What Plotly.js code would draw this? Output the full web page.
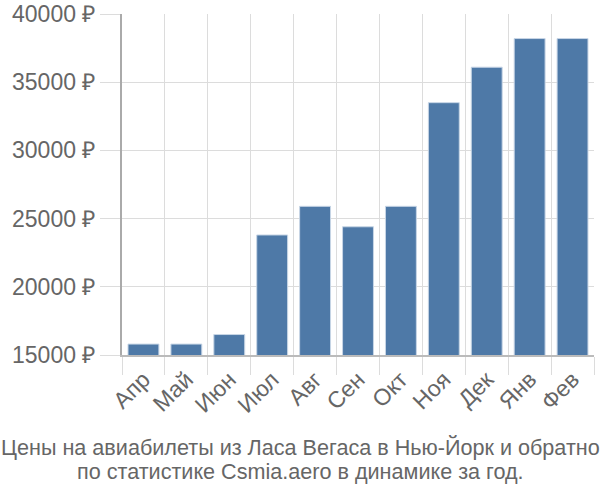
<!DOCTYPE html>
<html>
<head>
<meta charset="utf-8">
<script src="https://cdn.plot.ly/plotly-3.0.1.min.js"></script>
<style>
  html, body { margin: 0; padding: 0; background: #fff; }
  #chart { width: 600px; height: 500px; }
</style>
</head>
<body>
<div id="chart"></div>
<script>
var months = ['Апр', 'Май', 'Июн', 'Июл', 'Авг', 'Сен', 'Окт', 'Ноя', 'Дек', 'Янв', 'Фев'];
var prices = [15800, 15800, 16500, 23800, 25900, 24400, 25900, 33500, 36100, 38200, 38200];
var yTicks = [15000, 20000, 25000, 30000, 35000, 40000];
var yTickText = ['15000 ₽', '20000 ₽', '25000 ₽', '30000 ₽', '35000 ₽', '40000 ₽'];
var titleLines = [
  'Цены на авиабилеты из Ласа Вегаса в Нью-Йорк и обратно',
  'по статистике Csmia.aero в динамике за год.'
];

var data = [{
  type: 'bar',
  x: months,
  y: prices,
  width: 0.72,
  marker: { color: '#4e79a7', line: { color: '#c8d6e6', width: 1 } },
  hoverinfo: 'x+y',
  showlegend: false
}];

var layout = {
  width: 600,
  height: 500,
  paper_bgcolor: '#fff',
  plot_bgcolor: '#fff',
  margin: { l: 122, r: 6, t: 14, b: 145 },
  font: { family: 'Liberation Sans, Arial, sans-serif', color: '#666' },
  xaxis: {
    type: 'category',
    tickson: 'boundaries',
    ticks: 'outside',
    ticklen: 18,
    tickcolor: '#dcdcdc',
    showgrid: true,
    gridcolor: '#dcdcdc',
    gridwidth: 1,
    tickangle: -45,
    tickfont: { size: 23, color: '#666' },
    showline: true,
    linecolor: '#bbb',
    linewidth: 2
  },
  yaxis: {
    range: [15000, 40000],
    tickvals: yTicks,
    ticktext: yTickText,
    ticks: 'outside',
    ticklen: 20,
    tickcolor: '#dcdcdc',
    showgrid: true,
    gridcolor: '#dcdcdc',
    gridwidth: 1,
    zeroline: false,
    tickfont: { size: 23, color: '#666' },
    showline: true,
    linecolor: '#aaa',
    linewidth: 2
  },
  annotations: [
    {
      text: titleLines[0], xref: 'paper', yref: 'paper',
      x: (300 - 122) / 472, y: -0.27, xanchor: 'center', yanchor: 'middle',
      showarrow: false, font: { size: 21.6, color: '#666' }
    },
    {
      text: titleLines[1], xref: 'paper', yref: 'paper',
      x: (300 - 122) / 472, y: -0.343, xanchor: 'center', yanchor: 'middle',
      showarrow: false, font: { size: 21.6, color: '#666' }
    }
  ]
};

Plotly.newPlot('chart', data, layout, { displayModeBar: false, staticPlot: true });
</script>
</body>
</html>
